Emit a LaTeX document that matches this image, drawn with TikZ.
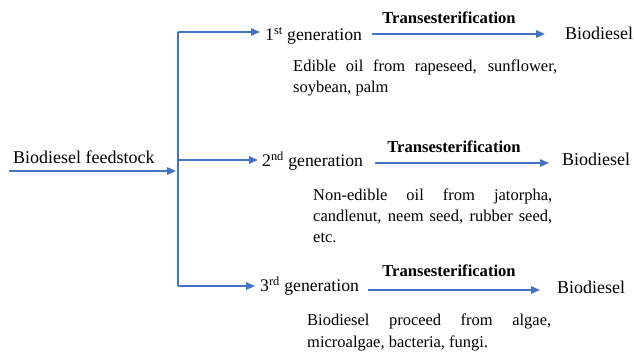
\documentclass[tikz,border=0pt]{standalone}
\usepackage{fontspec}
\setmainfont{Liberation Serif}
\usetikzlibrary{arrows.meta}
\definecolor{arrowblue}{HTML}{4472C4}
\begin{document}
\begin{tikzpicture}[x=1pt,y=-1pt,
  conn/.style={draw=arrowblue, line width=1.4pt},
  flow/.style={conn, -{Triangle[length=9pt,width=7.5pt]}},
  big/.style={inner sep=0pt, anchor=base west, font=\fontsize{18}{21}\selectfont},
  gen/.style={inner sep=0pt, anchor=base west, font=\fontsize{17.7}{21}\selectfont},
  trans/.style={inner sep=0pt, anchor=base, font=\fontsize{16.6}{20}\selectfont\bfseries},
  desc/.style={inner sep=0pt, anchor=base west, align=left, font=\fontsize{16.5}{21}\selectfont}]
\useasboundingbox (0,0) rectangle (634,352);

% source
\node[big] (feed) at (13,164) {Biodiesel feedstock};
\coordinate (in) at (9,171);
\coordinate (junc) at (178,171);
\coordinate (top) at (178,32);
\coordinate (mid) at (178,160);
\coordinate (bot) at (178,286);
\draw[conn] (top) -- (bot);
\draw[flow, shorten >=2pt] (in) -- (junc);

% generations
\node[gen] (g1) at (265,41) {1\textsuperscript{st} generation};
\node[gen] (g2) at (262,167) {2\textsuperscript{nd} generation};
\node[gen] (g3) at (260,292) {3\textsuperscript{rd} generation};
\draw[flow, shorten >=5pt] (top) -- (top -| g1.west);
\draw[flow, shorten >=4pt] (mid) -- (mid -| g2.west);
\draw[flow, shorten >=5pt] (bot) -- (bot -| g3.west);

% products
\node[big] (b1) at (565,40) {Biodiesel};
\node[big] (b2) at (562,166) {Biodiesel};
\node[big] (b3) at (557,294) {Biodiesel};

% transesterification arrows
\coordinate (r1) at (0,34);
\coordinate (r2) at (0,163);
\coordinate (r3) at (0,290);
\node[trans] (tr1) at (449,24) {Transesterification};
\node[trans] (tr2) at (454,153) {Transesterification};
\node[trans] (tr3) at (449,277) {Transesterification};
\draw[flow] (g1.east |- r1) ++(10,0) -- ([xshift=-20pt]b1.west |- r1);
\draw[flow] (g2.east |- r2) ++(12,0) -- ([xshift=-13pt]b2.west |- r2);
\draw[flow] (g3.east |- r3) ++(9,0) -- ([xshift=-17pt]b3.west |- r3);

% descriptions (anchored at the baseline of the last line)
\node[desc] (d1) at (293,93) {\makebox[264pt][s]{Edible oil from rapeseed, sunflower,}\\soybean, palm};
\node[desc] (d2) at (313,243) {\makebox[239pt][s]{Non-edible oil from jatorpha,}\\\makebox[239pt][s]{candlenut, neem seed, rubber seed,}\\etc.};
\node[desc] (d3) at (307,347) {\makebox[244pt][s]{Biodiesel proceed from algae,}\\microalgae, bacteria, fungi.};
\end{tikzpicture}
\end{document}
